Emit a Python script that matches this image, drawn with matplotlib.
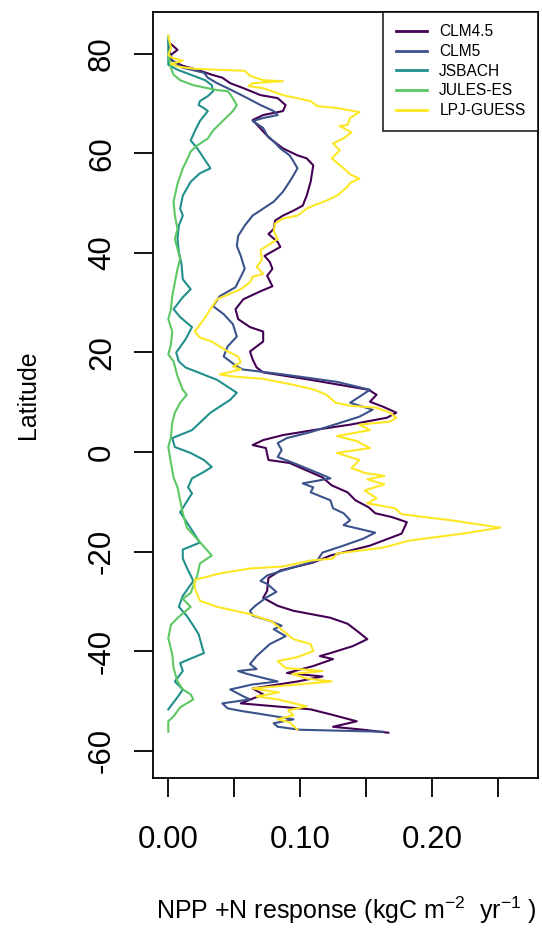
import matplotlib
matplotlib.use("Agg")
import matplotlib.pyplot as plt

plt.rcParams['font.family'] = ['Liberation Sans', 'DejaVu Sans']
plt.rcParams['mathtext.default'] = 'regular'

models = ['CLM4.5', 'CLM5', 'JSBACH', 'JULES-ES', 'LPJ-GUESS']
colors = ['#440154', '#3B528B', '#21908C', '#5DC863', '#FDE725']

# latitude / NPP response, one pair of lists per model
clm45_lat = [82.2, 80.8, 79.8, 78.6, 77.6, 76.8, 75.8, 75.2, 74.1, 73.1, 71.7, 71.1, 69.7, 68.5, 67.7,
             66.7, 64.4, 63.0, 61.0, 59.6, 59.0, 57.6, 54.3, 51.5, 49.5, 48.5, 47.5, 46.5, 44.8, 43.8,
             42.2, 41.2, 39.4, 38.2, 36.8, 35.4, 33.3, 32.3, 30.7, 28.7, 26.7, 25.1, 24.2, 22.2, 20.2,
             18.6, 17.0, 16.0, 14.5, 13.5, 12.5, 11.5, 10.1, 9.1, 7.9, 6.9, 5.5, 4.4, 3.4, 2.4, 1.4,
             0.8, -1.6, -2.2, -5.1, -6.7, -8.1, -9.7, -11.1, -12.3, -13.1, -14.1, -16.4, -18.8, -20.8,
             -22.2, -23.8, -25.3, -27.9, -29.3, -30.9, -31.9, -33.3, -34.5, -35.9, -37.6, -39.0, -40.4,
             -41.0, -41.6, -43.0, -44.4, -45.1, -46.1, -47.5, -48.7, -50.5, -51.7, -52.7, -54.1, -55.2,
             -55.8, -56.4]
clm45_val = [0.001, 0.007, 0.002, 0.003, 0.011, 0.022, 0.033, 0.041, 0.047, 0.057, 0.070, 0.083, 0.089,
             0.087, 0.072, 0.064, 0.072, 0.077, 0.087, 0.098, 0.105, 0.110, 0.108, 0.105, 0.102, 0.095,
             0.087, 0.081, 0.080, 0.076, 0.083, 0.085, 0.073, 0.077, 0.079, 0.075, 0.079, 0.070, 0.057,
             0.051, 0.053, 0.062, 0.072, 0.072, 0.062, 0.064, 0.067, 0.072, 0.108, 0.130, 0.152, 0.158,
             0.153, 0.163, 0.173, 0.166, 0.138, 0.110, 0.087, 0.072, 0.064, 0.074, 0.076, 0.092, 0.117,
             0.124, 0.136, 0.142, 0.152, 0.157, 0.170, 0.181, 0.177, 0.153, 0.123, 0.110, 0.085, 0.076,
             0.075, 0.072, 0.083, 0.095, 0.123, 0.136, 0.143, 0.151, 0.140, 0.123, 0.115, 0.125, 0.110,
             0.090, 0.117, 0.098, 0.064, 0.072, 0.055, 0.108, 0.123, 0.143, 0.125, 0.148, 0.167]

clm5_lat = [82.6, 78.8, 77.2, 76.2, 75.2, 74.1, 73.1, 71.1, 69.7, 68.5, 67.7, 67.1, 66.5, 65.1, 63.6,
            62.4, 61.0, 59.6, 58.4, 57.0, 55.6, 54.3, 52.3, 50.3, 48.9, 47.5, 45.5, 43.4, 41.4, 39.4,
            36.8, 33.1, 31.3, 29.3, 27.7, 25.7, 23.2, 21.2, 19.2, 17.6, 16.6, 15.6, 14.1, 12.5, 11.1,
            9.9, 8.5, 7.1, 6.5, 4.0, 2.8, 1.8, 0.4, -1.0, -2.2, -4.6, -5.3, -6.3, -7.1, -8.1, -9.7,
            -11.3, -12.3, -13.7, -14.7, -16.2, -17.4, -18.8, -20.2, -21.8, -23.8, -24.8, -25.9, -26.5,
            -28.1, -29.3, -30.9, -31.9, -32.9, -33.9, -34.9, -35.6, -37.0, -38.6, -41.0, -42.6, -43.6,
            -44.0, -44.6, -46.1, -46.7, -47.7, -49.1, -49.7, -50.5, -51.5, -52.1, -52.5, -53.7, -54.5,
            -55.2, -55.8, -56.2]
clm5_val = [0.000, 0.002, 0.011, 0.027, 0.030, 0.037, 0.045, 0.060, 0.070, 0.080, 0.083, 0.072, 0.064,
            0.072, 0.075, 0.080, 0.085, 0.092, 0.095, 0.098, 0.095, 0.092, 0.087, 0.080, 0.072, 0.064,
            0.058, 0.053, 0.052, 0.055, 0.058, 0.051, 0.039, 0.034, 0.042, 0.049, 0.052, 0.045, 0.042,
            0.050, 0.056, 0.087, 0.128, 0.153, 0.145, 0.138, 0.155, 0.145, 0.138, 0.108, 0.090, 0.083,
            0.086, 0.083, 0.095, 0.117, 0.123, 0.102, 0.110, 0.108, 0.123, 0.125, 0.133, 0.138, 0.133,
            0.157, 0.148, 0.133, 0.117, 0.113, 0.087, 0.075, 0.070, 0.075, 0.082, 0.074, 0.066, 0.062,
            0.064, 0.077, 0.086, 0.080, 0.089, 0.077, 0.067, 0.062, 0.067, 0.053, 0.060, 0.083, 0.064,
            0.047, 0.057, 0.062, 0.041, 0.045, 0.057, 0.067, 0.095, 0.080, 0.083, 0.100, 0.163]

jsbach_lat = [83.6, 77.8, 76.8, 75.6, 74.7, 73.7, 72.5, 71.5, 70.5, 69.7, 69.1, 68.5, 66.5, 64.4, 62.6,
              61.0, 59.0, 57.0, 56.0, 54.3, 51.5, 48.9, 47.5, 45.5, 42.8, 40.2, 37.8, 34.7, 32.7, 31.1,
              28.7, 27.1, 25.1, 22.6, 20.0, 18.2, 17.0, 14.5, 11.9, 10.5, 7.9, 4.4, 2.8, 1.0, -0.2, -1.6,
              -3.0, -4.0, -5.3, -7.1, -8.3, -12.1, -14.1, -18.2, -19.6, -21.4, -23.2, -25.9, -28.9, -31.1,
              -32.9, -34.9, -36.6, -40.4, -42.4, -44.0, -46.1, -47.7, -48.9, -51.7]
jsbach_val = [0.000, 0.000, 0.007, 0.019, 0.028, 0.033, 0.034, 0.030, 0.024, 0.023, 0.027, 0.030, 0.024,
              0.020, 0.017, 0.022, 0.027, 0.032, 0.024, 0.017, 0.011, 0.009, 0.011, 0.008, 0.007, 0.008,
              0.010, 0.011, 0.017, 0.011, 0.004, 0.009, 0.018, 0.013, 0.006, 0.008, 0.013, 0.037, 0.052,
              0.047, 0.032, 0.018, 0.003, 0.005, 0.017, 0.027, 0.033, 0.027, 0.018, 0.015, 0.018, 0.009,
              0.014, 0.024, 0.011, 0.011, 0.014, 0.019, 0.011, 0.008, 0.014, 0.019, 0.023, 0.027, 0.009,
              0.011, 0.005, 0.011, 0.008, 0.000]

jules_lat = [79.8, 77.2, 75.8, 74.7, 73.7, 72.7, 72.5, 71.5, 69.7, 68.5, 66.7, 64.6, 63.0, 61.6, 60.4,
             58.6, 57.0, 53.9, 50.3, 47.5, 44.8, 42.8, 40.8, 38.8, 36.8, 34.1, 31.3, 28.7, 26.7, 24.2,
             21.6, 19.6, 18.2, 15.2, 12.5, 11.5, 9.9, 7.9, 5.9, 3.0, 1.0, -2.2, -5.1, -7.1, -9.7, -12.3,
             -15.2, -17.8, -20.8, -22.4, -24.8, -26.9, -28.3, -29.5, -31.1, -33.1, -34.7, -37.4, -40.6,
             -43.4, -46.1, -47.7, -48.7, -49.7, -51.3, -53.1, -54.1, -56.2]
jules_val = [0.000, 0.002, 0.004, 0.009, 0.019, 0.037, 0.045, 0.048, 0.052, 0.049, 0.042, 0.034, 0.030,
             0.022, 0.017, 0.014, 0.011, 0.007, 0.004, 0.005, 0.007, 0.005, 0.007, 0.009, 0.007, 0.005,
             0.003, 0.002, 0.000, 0.003, 0.002, 0.000, 0.004, 0.007, 0.011, 0.014, 0.009, 0.005, 0.003,
             0.002, 0.000, 0.002, 0.004, 0.007, 0.009, 0.011, 0.014, 0.023, 0.033, 0.024, 0.022, 0.019,
             0.017, 0.011, 0.017, 0.008, 0.002, 0.000, 0.003, 0.004, 0.007, 0.011, 0.017, 0.019, 0.009,
             0.004, 0.000, 0.000]

lpj_lat = [83.6, 81.2, 79.8, 79.2, 78.6, 78.0, 77.4, 77.0, 76.8, 76.6, 75.6, 74.7, 74.5, 74.1, 73.5,
           73.1, 71.7, 70.5, 69.5, 69.1, 68.3, 67.1, 65.7, 65.5, 64.2, 63.0, 62.0, 60.6, 59.0, 57.0,
           55.8, 54.9, 54.1, 53.3, 51.5, 50.5, 49.5, 48.9, 47.5, 46.9, 45.9, 44.4, 42.8, 41.6, 40.6,
           38.6, 37.2, 35.8, 35.2, 34.1, 32.7, 30.7, 28.7, 26.3, 24.2, 23.0, 22.2, 21.2, 20.2, 19.2,
           18.0, 17.2, 16.6, 15.6, 15.2, 14.7, 13.5, 12.5, 11.5, 9.9, 9.3, 8.9, 7.9, 6.9, 6.1, 5.5,
           4.4, 3.2, 2.2, 0.8, -0.2, -1.6, -3.2, -4.2, -4.8, -5.5, -6.5, -7.7, -9.3, -10.3, -11.3,
           -12.5, -13.7, -15.2, -16.4, -17.8, -19.2, -20.4, -21.4, -21.8, -23.0, -23.4, -24.4, -25.7,
           -27.3, -29.9, -31.1, -32.5, -34.1, -35.9, -37.6, -38.6, -40.0, -41.2, -42.0, -43.4, -44.0,
           -44.6, -45.5, -46.1, -47.5, -48.3, -49.1, -49.7, -51.1, -51.9, -52.9, -53.7, -54.3, -55.8]
lpj_val = [0.000, 0.002, 0.000, 0.003, 0.011, 0.002, 0.008, 0.020, 0.037, 0.058, 0.062, 0.072, 0.087,
           0.064, 0.061, 0.072, 0.087, 0.108, 0.113, 0.128, 0.145, 0.138, 0.136, 0.130, 0.139, 0.133,
           0.125, 0.130, 0.124, 0.133, 0.138, 0.145, 0.138, 0.136, 0.128, 0.120, 0.110, 0.105, 0.098,
           0.087, 0.081, 0.080, 0.083, 0.076, 0.070, 0.071, 0.067, 0.072, 0.064, 0.062, 0.055, 0.037,
           0.032, 0.026, 0.020, 0.024, 0.033, 0.039, 0.045, 0.053, 0.055, 0.049, 0.055, 0.039, 0.048,
           0.072, 0.095, 0.111, 0.120, 0.127, 0.138, 0.158, 0.168, 0.173, 0.168, 0.145, 0.153, 0.128,
           0.143, 0.153, 0.128, 0.145, 0.139, 0.149, 0.164, 0.151, 0.164, 0.149, 0.158, 0.151, 0.172,
           0.177, 0.214, 0.252, 0.223, 0.183, 0.163, 0.128, 0.125, 0.108, 0.087, 0.062, 0.039, 0.020,
           0.020, 0.024, 0.037, 0.061, 0.079, 0.087, 0.095, 0.108, 0.110, 0.098, 0.083, 0.089, 0.117,
           0.094, 0.105, 0.124, 0.064, 0.084, 0.067, 0.083, 0.105, 0.091, 0.095, 0.083, 0.092, 0.098]

series = [(clm45_val, clm45_lat), (clm5_val, clm5_lat), (jsbach_val, jsbach_lat),
          (jules_val, jules_lat), (lpj_val, lpj_lat)]

fig = plt.figure(figsize=(5.42, 9.31), dpi=100)
ax = fig.add_axes([0.2823, 0.1643, 0.7103, 0.8228])

for (v, lat), name, c in zip(series, models, colors):
    ax.plot(v, lat, color=c, lw=1.5, label=name)

ax.set_xlim(-0.0116, 0.2805)
ax.set_ylim(-65.5, 88.4)
ax.set_xticks([0.00, 0.05, 0.10, 0.15, 0.20, 0.25])
ax.set_xticklabels(['0.00', '', '0.10', '', '0.20', ''])
ax.set_yticks([-60, -40, -20, 0, 20, 40, 60, 80])
ax.set_yticklabels(['-60', '-40', '-20', '0', '20', '40', '60', '80'], rotation=90, va='center')

for s in ax.spines.values():
    s.set_linewidth(1.3)
ax.tick_params(axis='both', length=14, width=1.3, labelsize=22.5)
ax.tick_params(axis='x', pad=20)
ax.tick_params(axis='y', pad=12)

fig.text(346/542, 1-910/931, 'NPP +N response (kgC m$^{-2}$  yr$^{-1}$ )', fontsize=18,
         ha='center', va='center')
fig.text(28/542, 1-395/931, 'Latitude', fontsize=18, rotation=90, ha='center', va='center')

leg = ax.legend(loc='upper right', fontsize=11.2, frameon=True, fancybox=False, borderaxespad=0,
                handlelength=2.0, labelspacing=0.3, borderpad=0.8, handletextpad=0.8)
leg.get_frame().set_edgecolor('black')
leg.get_frame().set_linewidth(1.3)
for line in leg.get_lines():
    line.set_linewidth(2.0)

fig.savefig('out.png', dpi=100)
